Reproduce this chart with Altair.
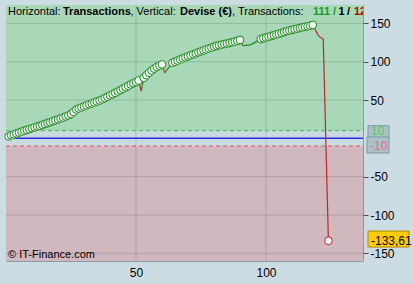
import altair as alt
import pandas as pd

# ---------------- data ----------------
trade = (list(range(1, 52)) + [52] + list(range(53, 61)) + [61, 64]
         + list(range(65, 91)) + [91, 94] + list(range(98, 119))
         + [119, 120, 121, 122, 124])

equity = [
    2.5, 4.0, 5.2, 6.5, 7.6, 8.8, 10.0, 11.0, 12.1, 13.3,
    14.4, 15.5, 16.4, 17.6, 18.8, 19.9, 21.0, 22.4, 23.6, 24.8,
    26.1, 27.2, 28.6, 30.0, 31.8, 34.5, 37.6, 39.0, 40.4, 41.6,
    43.0, 44.5, 45.6, 46.9, 48.2, 49.4, 50.8, 52.6, 54.3, 56.0,
    57.6, 59.3, 61.2, 63.0, 64.8, 66.7, 68.6, 70.4, 72.0, 73.6,
    75.5,
    61.5,
    79.0, 82.5, 85.6, 88.5, 91.0, 93.2, 95.0, 96.5,
    85.5, 98.6,
    100.0, 101.5, 103.0, 104.3, 105.6, 107.0, 108.3, 109.6, 111.0, 112.3,
    113.5, 114.8, 116.0, 117.2, 118.4, 119.6, 120.7, 121.5, 122.3, 123.1,
    123.8, 124.6, 125.4, 126.3, 127.3, 128.5,
    121.0, 122.0,
    129.5, 130.6, 131.6, 132.6, 133.6, 134.6, 135.6, 136.6, 137.6, 138.6,
    139.8, 140.8, 141.6, 142.4, 143.2, 144.0, 144.8, 145.5, 146.2, 147.0,
    148.0,
    141.3, 134.7, 131.5, 129.5, -133.61,
]

marker = (["win"] * 51 + ["none"] + ["win"] * 8 + ["none", "win"]
          + ["win"] * 26 + ["none", "none"] + ["win"] * 21
          + ["none"] * 4 + ["last"])

x_ticks = [50, 100]
y_ticks = [-150, -100, -50, 50, 100, 150]

label_values = [10, -10, -133.61]
label_texts = ["10", "-10", "-133,61"]

title_parts = ["Horizontal: ", "Transactions", ", Vertical: ", "Devise (€)",
               ", Transactions: ", "111", "/", "1", "/", "12"]
title_bold = [False, True, False, True, False, True, True, True, True, True]
title_colors = ["#000000", "#000000", "#000000", "#000000", "#000000",
                "#1a9a1a", "#1a9a1a", "#000000", "#000000", "#b00000"]
title_px = [2, 57, 124.5, 174, 226, 307, 327, 332.5, 341, 348]

watermark = "© IT-Finance.com"

# ---------------- layout ----------------
W, H = 357, 256
XMAX = 137.3
YMIN, YMAX = -160.0, 174.0
PPU = H / (YMAX - YMIN)

xs = alt.Scale(domain=[0, XMAX], nice=False, zero=False)
ys = alt.Scale(domain=[YMIN, YMAX], nice=False, zero=False)

X_AXIS = alt.Axis(values=x_ticks, grid=False, ticks=False, domain=False,
                  labelFontSize=12, labelColor="#000000",
                  labelFont="Liberation Sans", labelPadding=6, title=None)
Y_AXIS = alt.Axis(orient="right", values=y_ticks, grid=False, domain=False,
                  tickSize=5, tickColor="#505050", labelFontSize=12,
                  labelColor="#000000", labelFont="Liberation Sans",
                  labelPadding=2, labelExpr="'' + datum.value", title=None)

GREEN_BG = "#a8d8b8"
MID_BG = "#c9dbe1"
PINK_BG = "#d0b8be"
PAGE_BG = "#ccdce3"

df = pd.DataFrame({"trade": trade, "equity": equity, "marker": marker})

seg = pd.DataFrame({
    "x": trade[:-1], "y": equity[:-1],
    "x2": trade[1:], "y2": equity[1:],
})
seg["dir"] = ["up" if b >= a else "down" for a, b in zip(equity[:-1], equity[1:])]

bands = pd.DataFrame({
    "y": [10, -10, YMIN], "y2": [YMAX, 10, -10],
    "c": [GREEN_BG, MID_BG, PINK_BG],
})

band_layer = alt.Chart(bands).mark_rect().encode(
    x=alt.value(0), x2=alt.value(W),
    y=alt.Y("y:Q", scale=ys, axis=Y_AXIS), y2="y2:Q",
    color=alt.Color("c:N", scale=None),
)

vgrid = alt.Chart(pd.DataFrame({"v": x_ticks})).mark_rule(
    color="#000000", opacity=0.14, strokeWidth=1
).encode(x=alt.X("v:Q", scale=xs, axis=X_AXIS), y=alt.value(0), y2=alt.value(H))

hgrid = alt.Chart(pd.DataFrame({"v": y_ticks})).mark_rule(
    color="#000000", opacity=0.14, strokeWidth=1
).encode(y=alt.Y("v:Q", scale=ys, axis=Y_AXIS), x=alt.value(0), x2=alt.value(W))

refs = pd.DataFrame({"v": [10, -10, 0], "c": ["#44bb44", "#e05555", "#2a2ae0"],
                     "d": ["dash", "dash", "solid"]})
ref_dash = alt.Chart(refs[refs.d == "dash"]).mark_rule(
    strokeWidth=1, strokeDash=[4, 3]
).encode(y=alt.Y("v:Q", scale=ys, axis=Y_AXIS), x=alt.value(0), x2=alt.value(W),
         color=alt.Color("c:N", scale=None))
ref_solid = alt.Chart(refs[refs.d == "solid"]).mark_rule(
    strokeWidth=1.5
).encode(y=alt.Y("v:Q", scale=ys, axis=Y_AXIS), x=alt.value(0), x2=alt.value(W),
         color=alt.Color("c:N", scale=None))

segments = alt.Chart(seg).mark_rule(strokeWidth=1.2).encode(
    x=alt.X("x:Q", scale=xs, axis=X_AXIS), x2="x2:Q",
    y=alt.Y("y:Q", scale=ys, axis=Y_AXIS), y2="y2:Q",
    color=alt.Color("dir:N", scale=alt.Scale(domain=["up", "down"],
                                             range=["#1f8a1f", "#c0242c"]),
                    legend=None),
)

points = alt.Chart(df[df.marker != "none"]).mark_circle(
    size=60, opacity=1, fill="#eef3ef", strokeWidth=1
).encode(
    x=alt.X("trade:Q", scale=xs, axis=X_AXIS),
    y=alt.Y("equity:Q", scale=ys, axis=Y_AXIS),
    stroke=alt.Stroke("marker:N", scale=alt.Scale(domain=["win", "last"],
                                                  range=["#1f8a1f", "#c0242c"]),
                      legend=None),
)

# value labels on the right
lab = pd.DataFrame({
    "v": label_values, "t": label_texts,
    "top": [5.0, 9.0, 9.7], "bot": [8.0, 7.0, 6.3],
    "bx": [362, 361, 362], "bx2": [383, 383, 403],
    "fill": ["#a9c2cb", "#a9c2cb", "#ffcc00"],
    "stroke": ["#7f98a2", "#7f98a2", "#a88600"],
    "tc": ["#55cc55", "#e86a6a", "#000000"],
})
lab["y1"] = lab["v"] + lab["top"] / PPU
lab["y2"] = lab["v"] - lab["bot"] / PPU
lab["tx"] = lab["bx"] + 3

boxes = alt.Chart(lab).mark_rect(clip=False, strokeWidth=1).encode(
    x=alt.X("bx:Q", scale=None), x2="bx2:Q",
    y=alt.Y("y1:Q", scale=ys, axis=Y_AXIS), y2="y2:Q",
    fill=alt.Fill("fill:N", scale=None),
    stroke=alt.Stroke("stroke:N", scale=None),
)
box_text = alt.Chart(lab).mark_text(
    clip=False, align="left", baseline="middle", fontSize=12,
    font="Liberation Sans"
).encode(
    x=alt.X("tx:Q", scale=None),
    y=alt.Y("v:Q", scale=ys, axis=Y_AXIS),
    text="t:N",
    color=alt.Color("tc:N", scale=None),
)

tdf = pd.DataFrame({"t": title_parts, "b": title_bold, "c": title_colors, "px": title_px})
title_reg = alt.Chart(tdf[~tdf.b]).mark_text(
    clip=True, align="left", baseline="alphabetic", fontSize=11,
    font="Liberation Sans"
).encode(x=alt.X("px:Q", scale=None), y=alt.value(10), text="t:N",
         color=alt.Color("c:N", scale=None))
title_bold_l = alt.Chart(tdf[tdf.b]).mark_text(
    clip=True, align="left", baseline="alphabetic", fontSize=11,
    font="Liberation Sans", fontWeight="bold"
).encode(x=alt.X("px:Q", scale=None), y=alt.value(10), text="t:N",
         color=alt.Color("c:N", scale=None))

wm = alt.Chart(pd.DataFrame({"t": [watermark]})).mark_text(
    align="left", baseline="middle", fontSize=11, font="Liberation Sans",
    color="#000000"
).encode(x=alt.value(2), y=alt.value(250), text="t:N")

chart = alt.layer(
    band_layer, vgrid, hgrid, ref_dash, ref_solid, segments, points,
    boxes, box_text, title_reg, title_bold_l, wm
).properties(
    width=W, height=H,
    background=PAGE_BG,
    padding={"left": 6, "top": 5, "right": 51, "bottom": 23},
    autosize=alt.AutoSizeParams(type="none"),
).configure_view(stroke="#8a9ca3", strokeWidth=1)

chart.save("out.html", embed_options={"renderer": "svg", "actions": False})
